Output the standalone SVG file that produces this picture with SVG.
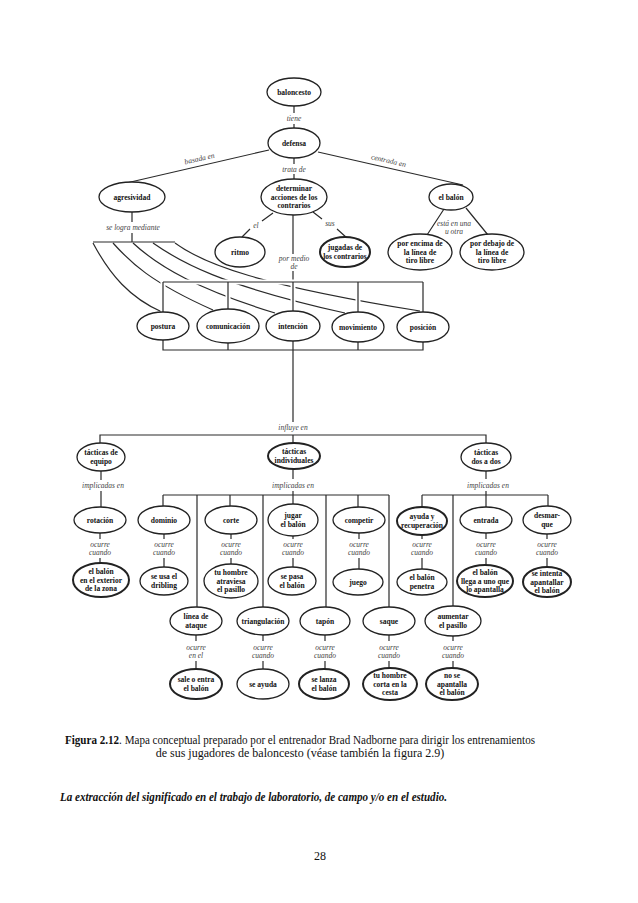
<svg xmlns="http://www.w3.org/2000/svg" width="638" height="903" viewBox="0 0 638 903">
<style>
.n ellipse{fill:#fff;stroke:#222;stroke-width:1.3}
.n.t ellipse{stroke-width:2}
.n text{font-family:"Liberation Serif",serif;font-weight:bold;font-size:7.5px;fill:#111;text-anchor:middle}
.c path,.c line{fill:none;stroke:#2a2a2a;stroke-width:1.2}
.c .halo{stroke:#fff;stroke-width:5}
.lb{font-family:"Liberation Serif",serif;font-style:italic;font-size:7.5px;fill:#444;text-anchor:middle}
.cap{font-family:"Liberation Serif",serif;font-size:12px;fill:#111}
</style>
<rect width="638" height="903" fill="#fff"/>
<g id="connectors" class="c">
<path d="M294,106V113M294,124V128"/>
<path d="M294,158V164M294,174V179"/>
<path d="M269,150L122,184"/>
<path d="M318,152L463,185"/>
<path d="M273,213L262,221M250,229L242,237"/>
<path d="M313,212L322,219M337,229L347,238"/>
<path d="M293,215V254M293,271V282"/>
<path d="M444,209L427,235M466,208L488,235"/>
<path d="M132,212V222M132,233V242M93,242H175"/>
<path d="M93,243C110,275 130,298 162,312"/>
<path d="M113,243C130,262 150,282 213,310"/>
<path d="M133,243C160,268 200,290 275,313"/>
<path d="M153,243C180,262 220,285 345,313"/>
<path d="M175,243C205,265 260,285 420,311"/>
<path class="halo" d="M163,282H423M163,282V312M228,282V309M358,282V312M423,282V312M293,282V311"/>
<path d="M163,282H423M163,282V312M228,282V309M358,282V312M423,282V312M293,282V311"/>
<path d="M163,340V350H423V342M228,343V350M358,342V350M293,341V422"/>
<path d="M100,443V435H486V443M293,435V443"/>
<path d="M101,471V480M101,491V507"/>
<path d="M293,469V479M293,491V495M163,495H389M163,495V506M197,495V607M230,495V506M263,495V607M293,495V504M326,495V607M358,495V507M389,495V607"/>
<path d="M486,471V479M486,491V495M422,495H548M422,495V507M453,495V606M486,495V507M548,495V506"/>
<path d="M100,533V539M100,558V563M164,534V539M164,558V567M231,534V539M231,558V564M293,536V539M293,558V567M359,533V539M359,558V569M422,535V539M422,558V569M486,533V539M486,558V565M547,534V539M547,558V567"/>
<path d="M196,635V641M196,661V669M263,635V641M263,661V669M325,635V641M325,661V669M389,635V641M389,661V668M453,636V641M453,661V668"/>
</g>
<g id="labels">
<text class="lb" x="294" y="121">tiene</text>
<text class="lb" x="294" y="172">trata de</text>
<text class="lb" x="200" y="161" transform="rotate(-13 200 161)">basada en</text>
<text class="lb" x="388" y="163" transform="rotate(13 388 163)">centrada en</text>
<text class="lb" x="256" y="228">el</text>
<text class="lb" x="330" y="226">sus</text>
<text class="lb" x="294" y="261">por medio</text>
<text class="lb" x="294" y="269">de</text>
<text class="lb" x="454" y="226">está en una</text>
<text class="lb" x="454" y="234">u otra</text>
<text class="lb" x="133" y="230">se logra mediante</text>
<text class="lb" x="293" y="430">influye en</text>
<text class="lb" x="103" y="488">implicadas en</text>
<text class="lb" x="293" y="488">implicadas en</text>
<text class="lb" x="488" y="488">implicadas en</text>
<g>
<text class="lb" x="100" y="547">ocurre</text><text class="lb" x="100" y="555">cuando</text>
<text class="lb" x="164" y="547">ocurre</text><text class="lb" x="164" y="555">cuando</text>
<text class="lb" x="231" y="547">ocurre</text><text class="lb" x="231" y="555">cuando</text>
<text class="lb" x="293" y="547">ocurre</text><text class="lb" x="293" y="555">cuando</text>
<text class="lb" x="359" y="547">ocurre</text><text class="lb" x="359" y="555">cuando</text>
<text class="lb" x="422" y="547">ocurre</text><text class="lb" x="422" y="555">cuando</text>
<text class="lb" x="486" y="547">ocurre</text><text class="lb" x="486" y="555">cuando</text>
<text class="lb" x="547" y="547">ocurre</text><text class="lb" x="547" y="555">cuando</text>
<text class="lb" x="196" y="650">ocurre</text><text class="lb" x="196" y="658">en el</text>
<text class="lb" x="263" y="650">ocurre</text><text class="lb" x="263" y="658">cuando</text>
<text class="lb" x="325" y="650">ocurre</text><text class="lb" x="325" y="658">cuando</text>
<text class="lb" x="389" y="650">ocurre</text><text class="lb" x="389" y="658">cuando</text>
<text class="lb" x="453" y="650">ocurre</text><text class="lb" x="453" y="658">cuando</text>
</g>
</g>
<g id="n1" class="n"><ellipse cx="294" cy="92" rx="27" ry="14"/><text x="294" y="94.5">baloncesto</text></g>
<g id="n2" class="n"><ellipse cx="294" cy="143" rx="26" ry="15"/><text x="294" y="145.5">defensa</text></g>
<g id="n3" class="n"><ellipse cx="132" cy="197" rx="33" ry="15"/><text x="132" y="199.5">agresividad</text></g>
<g id="n4" class="n"><ellipse cx="294" cy="197" rx="33" ry="18"/><text x="294" y="191">determinar</text><text x="294" y="199.5">acciones de los</text><text x="294" y="208">contrarios</text></g>
<g id="n5" class="n"><ellipse cx="451" cy="197" rx="22" ry="13"/><text x="451" y="199.5">el balón</text></g>
<g id="n6" class="n"><ellipse cx="240" cy="252" rx="25" ry="15"/><text x="240" y="254.5">ritmo</text></g>
<g id="n7" class="n t"><ellipse cx="345" cy="252" rx="25" ry="15"/><text x="345" y="250">jugadas de</text><text x="345" y="258.5">los contrarios</text></g>
<g id="n8" class="n"><ellipse cx="420" cy="252" rx="32" ry="18"/><text x="420" y="246">por encima de</text><text x="420" y="254.5">la línea de</text><text x="420" y="263">tiro libre</text></g>
<g id="n9" class="n"><ellipse cx="492" cy="252" rx="32" ry="18"/><text x="492" y="246">por debajo de</text><text x="492" y="254.5">la línea de</text><text x="492" y="263">tiro libre</text></g>
<g id="n10" class="n"><ellipse cx="163" cy="326" rx="26" ry="14"/><text x="163" y="328.5">postura</text></g>
<g id="n11" class="n"><ellipse cx="228" cy="326" rx="31" ry="17"/><text x="228" y="328.5">comunicación</text></g>
<g id="n12" class="n"><ellipse cx="293" cy="326" rx="27" ry="15"/><text x="293" y="328.5">intención</text></g>
<g id="n13" class="n"><ellipse cx="358" cy="327" rx="26" ry="15"/><text x="358" y="329.5">movimiento</text></g>
<g id="n14" class="n"><ellipse cx="423" cy="327" rx="26" ry="15"/><text x="423" y="329.5">posición</text></g>
<g id="n15" class="n"><ellipse cx="101" cy="457" rx="24" ry="14"/><text x="101" y="455">tácticas de</text><text x="101" y="463.5">equipo</text></g>
<g id="n16" class="n t"><ellipse cx="294" cy="456" rx="26" ry="13"/><text x="294" y="454">tácticas</text><text x="294" y="462.5">individuales</text></g>
<g id="n17" class="n"><ellipse cx="486" cy="457" rx="25" ry="14"/><text x="486" y="455">tácticas</text><text x="486" y="463.5">dos a dos</text></g>
<g id="n18" class="n"><ellipse cx="100" cy="520" rx="26" ry="13"/><text x="100" y="522.5">rotación</text></g>
<g id="n19" class="n"><ellipse cx="164" cy="520" rx="26" ry="14"/><text x="164" y="522.5">dominio</text></g>
<g id="n20" class="n"><ellipse cx="231" cy="520" rx="26" ry="14"/><text x="231" y="522.5">corte</text></g>
<g id="n21" class="n"><ellipse cx="293" cy="520" rx="25" ry="16"/><text x="293" y="518">jugar</text><text x="293" y="526.5">el balón</text></g>
<g id="n22" class="n"><ellipse cx="359" cy="520" rx="26" ry="13"/><text x="359" y="522.5">competir</text></g>
<g id="n23" class="n t"><ellipse cx="422" cy="521" rx="25" ry="14"/><text x="422" y="519">ayuda y</text><text x="422" y="527.5">recuperación</text></g>
<g id="n24" class="n"><ellipse cx="486" cy="520" rx="26" ry="13"/><text x="486" y="522.5">entrada</text></g>
<g id="n25" class="n"><ellipse cx="547" cy="520" rx="24" ry="14"/><text x="547" y="518">desmar-</text><text x="547" y="526.5">que</text></g>
<g id="n26" class="n t"><ellipse cx="101" cy="580" rx="28" ry="17"/><text x="101" y="574">el balón</text><text x="101" y="582.5">en el exterior</text><text x="101" y="591">de la zona</text></g>
<g id="n27" class="n"><ellipse cx="164" cy="581" rx="24" ry="14"/><text x="164" y="579">se usa el</text><text x="164" y="587.5">dribling</text></g>
<g id="n28" class="n"><ellipse cx="231" cy="581" rx="27" ry="17"/><text x="231" y="575">tu hombre</text><text x="231" y="583.5">atraviesa</text><text x="231" y="592">el pasillo</text></g>
<g id="n29" class="n"><ellipse cx="292" cy="581" rx="24" ry="14"/><text x="292" y="579">se pasa</text><text x="292" y="587.5">el balón</text></g>
<g id="n30" class="n"><ellipse cx="358" cy="582" rx="25" ry="13"/><text x="358" y="584.5">juego</text></g>
<g id="n31" class="n"><ellipse cx="422" cy="582" rx="25" ry="13"/><text x="422" y="580">el balón</text><text x="422" y="588.5">penetra</text></g>
<g id="n32" class="n t"><ellipse cx="485" cy="581" rx="28" ry="16"/><text x="485" y="575">el balón</text><text x="485" y="583.5">llega a uno que</text><text x="485" y="592">lo apantalla</text></g>
<g id="n33" class="n t"><ellipse cx="547" cy="582" rx="24" ry="15"/><text x="547" y="576">se intenta</text><text x="547" y="584.5">apantallar</text><text x="547" y="593">el balón</text></g>
<g id="n34" class="n"><ellipse cx="196" cy="621" rx="26" ry="14"/><text x="196" y="619">línea de</text><text x="196" y="627.5">ataque</text></g>
<g id="n35" class="n"><ellipse cx="263" cy="621" rx="26" ry="14"/><text x="263" y="623.5">triangulación</text></g>
<g id="n36" class="n"><ellipse cx="325" cy="621" rx="25" ry="14"/><text x="325" y="623.5">tapón</text></g>
<g id="n37" class="n"><ellipse cx="389" cy="621" rx="26" ry="14"/><text x="389" y="623.5">saque</text></g>
<g id="n38" class="n"><ellipse cx="453" cy="621" rx="28" ry="15"/><text x="453" y="619">aumentar</text><text x="453" y="627.5">el pasillo</text></g>
<g id="n39" class="n t"><ellipse cx="196" cy="684" rx="26" ry="15"/><text x="196" y="682">sale o entra</text><text x="196" y="690.5">el balón</text></g>
<g id="n40" class="n"><ellipse cx="263" cy="684" rx="26" ry="15"/><text x="263" y="686.5">se ayuda</text></g>
<g id="n41" class="n t"><ellipse cx="324" cy="684" rx="25" ry="15"/><text x="324" y="682">se lanza</text><text x="324" y="690.5">el balón</text></g>
<g id="n42" class="n t"><ellipse cx="390" cy="684" rx="27" ry="16"/><text x="390" y="678">tu hombre</text><text x="390" y="686.5">corta en la</text><text x="390" y="695">cesta</text></g>
<g id="n43" class="n t"><ellipse cx="452" cy="684" rx="26" ry="16"/><text x="452" y="678">no se</text><text x="452" y="686.5">apantalla</text><text x="452" y="695">el balón</text></g>
<g id="caption">
<text class="cap" x="65" y="744" textLength="470" lengthAdjust="spacingAndGlyphs"><tspan font-weight="bold">Figura 2.12</tspan>. Mapa conceptual preparado por el entrenador Brad Nadborne para dirigir los entrenamientos</text>
<text class="cap" x="300" y="757" text-anchor="middle">de sus jugadores de baloncesto (véase también la figura 2.9)</text>
<text class="cap" x="60" y="801" font-weight="bold" font-style="italic" textLength="387" lengthAdjust="spacingAndGlyphs">La extracción del significado en el trabajo de laboratorio, de campo y/o en el estudio.</text>
<text class="cap" x="320" y="860" text-anchor="middle">28</text>
</g>
</svg>
